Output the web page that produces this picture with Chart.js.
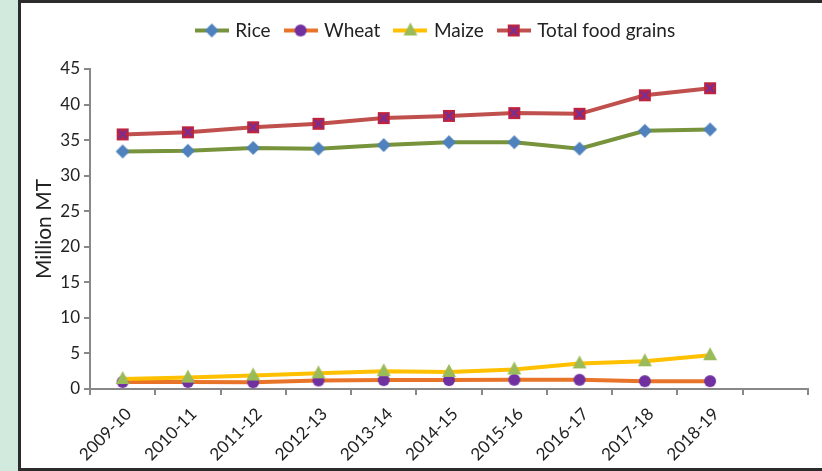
<!DOCTYPE html>
<html>
<head>
<meta charset="utf-8">
<script src="https://cdn.jsdelivr.net/npm/chart.js@4"></script>
<style>
html, body { margin: 0; padding: 0; background: #d2e9dd; }
#frame {
	position: absolute; left: 18px; top: 0; width: 801px; height: 465px; background: #fff;
	border-left: 3px solid #2b2b2b; border-top: 3px solid #2b2b2b; border-bottom: 3px solid #2b2b2b;
}
</style>
</head>
<body>
<div id="frame"><canvas id="mycanvas" width="801" height="465"></canvas></div>
<script>
var years = ['2009-10', '2010-11', '2011-12', '2012-13', '2013-14', '2014-15', '2015-16', '2016-17', '2017-18', '2018-19', ''];
var rice = [33.4, 33.5, 33.9, 33.8, 34.3, 34.7, 34.7, 33.8, 36.3, 36.5];
var wheat = [1.0, 1.0, 0.95, 1.2, 1.25, 1.25, 1.3, 1.3, 1.1, 1.1];
var maize = [1.4, 1.6, 1.9, 2.2, 2.5, 2.4, 2.75, 3.6, 3.9, 4.75];
var total = [35.8, 36.1, 36.8, 37.3, 38.1, 38.4, 38.8, 38.7, 41.3, 42.3];

var FONT = 'Lato, "Open Sans", sans-serif';

// little canvas markers, Excel style
function drawMarker(ctx, kind, x, y) {
	ctx.beginPath();
	if (kind == 'diamond') {
		ctx.fillStyle = '#4f81bd';
		ctx.moveTo(x, y - 7); ctx.lineTo(x + 7, y); ctx.lineTo(x, y + 7); ctx.lineTo(x - 7, y);
		ctx.closePath(); ctx.fill();
	} else if (kind == 'circle') {
		ctx.fillStyle = '#7030a0';
		ctx.arc(x, y, 6, 0, Math.PI * 2); ctx.fill();
	} else if (kind == 'triangle') {
		ctx.fillStyle = '#9bbb59';
		ctx.moveTo(x, y - 8); ctx.lineTo(x + 7, y + 5); ctx.lineTo(x - 7, y + 5);
		ctx.closePath(); ctx.fill();
	} else {
		ctx.fillStyle = '#c0243c';
		ctx.fillRect(x - 6, y - 6, 12, 12);
		ctx.strokeStyle = '#7030a0'; ctx.lineWidth = 2;
		ctx.moveTo(x - 4, y - 4); ctx.lineTo(x + 4, y + 4);
		ctx.moveTo(x + 4, y - 4); ctx.lineTo(x - 4, y + 4);
		ctx.stroke();
	}
}

function markerImg(kind) {
	var c = document.createElement('canvas');
	c.width = 18; c.height = 18;
	drawMarker(c.getContext('2d'), kind, 9, 9);
	return c;
}

function legendIcon(kind, color) {
	var c = document.createElement('canvas');
	c.width = 34; c.height = 18;
	var ctx = c.getContext('2d');
	ctx.strokeStyle = color; ctx.lineWidth = 4;
	ctx.beginPath(); ctx.moveTo(0, 9); ctx.lineTo(34, 9); ctx.stroke();
	drawMarker(ctx, kind, 17, 9);
	return c;
}

var kinds = ['diamond', 'circle', 'triangle', 'square'];
var colors = ['#77933c', '#e8742a', '#ffc000', '#c0504d'];

function series(label, data, i) {
	return {
		label: label,
		data: data,
		borderColor: colors[i],
		backgroundColor: colors[i],
		borderWidth: 4,
		tension: 0,
		pointStyle: markerImg(kinds[i]),
		pointRadius: 7,
		order: 4 - i
	};
}

// nudge the legend: a bit right and up, leaving a gap above the plot
var shiftLegend = {
	id: 'shiftLegend',
	afterLayout: function(chart) {
		var lg = chart.legend;
		lg.left += 22; lg.right += 22;
		lg.top -= 19; lg.bottom -= 19;
	}
};

var ctx = document.getElementById('mycanvas');
new Chart(ctx, {
	type: 'line',
	data: {
		labels: years,
		datasets: [
			series('Rice', rice, 0),
			series('Wheat', wheat, 1),
			series('Maize', maize, 2),
			series('Total food grains', total, 3)
		]
	},
	options: {
		responsive: false,
		animation: false,
		layout: { padding: { top: 21, right: 14, left: 0, bottom: 0 } },
		plugins: {
			tooltip: { enabled: false },
			legend: {
				position: 'top',
				labels: {
					usePointStyle: true,
					pointStyleWidth: 28,
					padding: 16,
					color: '#222',
					font: { family: FONT, size: 19 },
					generateLabels: function(chart) {
						return chart.data.datasets.map(function(ds, i) {
							return {
								text: ds.label,
								pointStyle: legendIcon(kinds[i], colors[i]),
								fillStyle: colors[i],
								strokeStyle: colors[i],
								lineWidth: 0,
								hidden: false,
								datasetIndex: i,
								fontColor: '#222'
							};
						});
					}
				}
			}
		},
		scales: {
			x: {
				offset: true,
				afterFit: function(s) { s.height = 79; },
				grid: { drawOnChartArea: false, offset: true, tickLength: 6, color: '#888', lineWidth: 2 },
				border: { color: '#888', width: 2 },
				ticks: {
					autoSkip: false, maxRotation: 45, minRotation: 45, padding: 9, labelOffset: 6,
					color: '#222', font: { family: FONT, size: 17 }
				}
			},
			y: {
				min: 0,
				max: 45,
				afterFit: function(s) { s.width = 69; },
				grid: { drawOnChartArea: false, tickLength: 6, color: '#888', lineWidth: 2 },
				border: { color: '#888', width: 2 },
				ticks: { stepSize: 5, padding: 4, color: '#222', font: { family: FONT, size: 17 } },
				title: { display: true, text: 'Million MT', padding: { top: 11, bottom: 0 }, color: '#222', font: { family: FONT, size: 21 } }
			}
		}
	},
	plugins: [shiftLegend]
});
</script>
</body>
</html>
